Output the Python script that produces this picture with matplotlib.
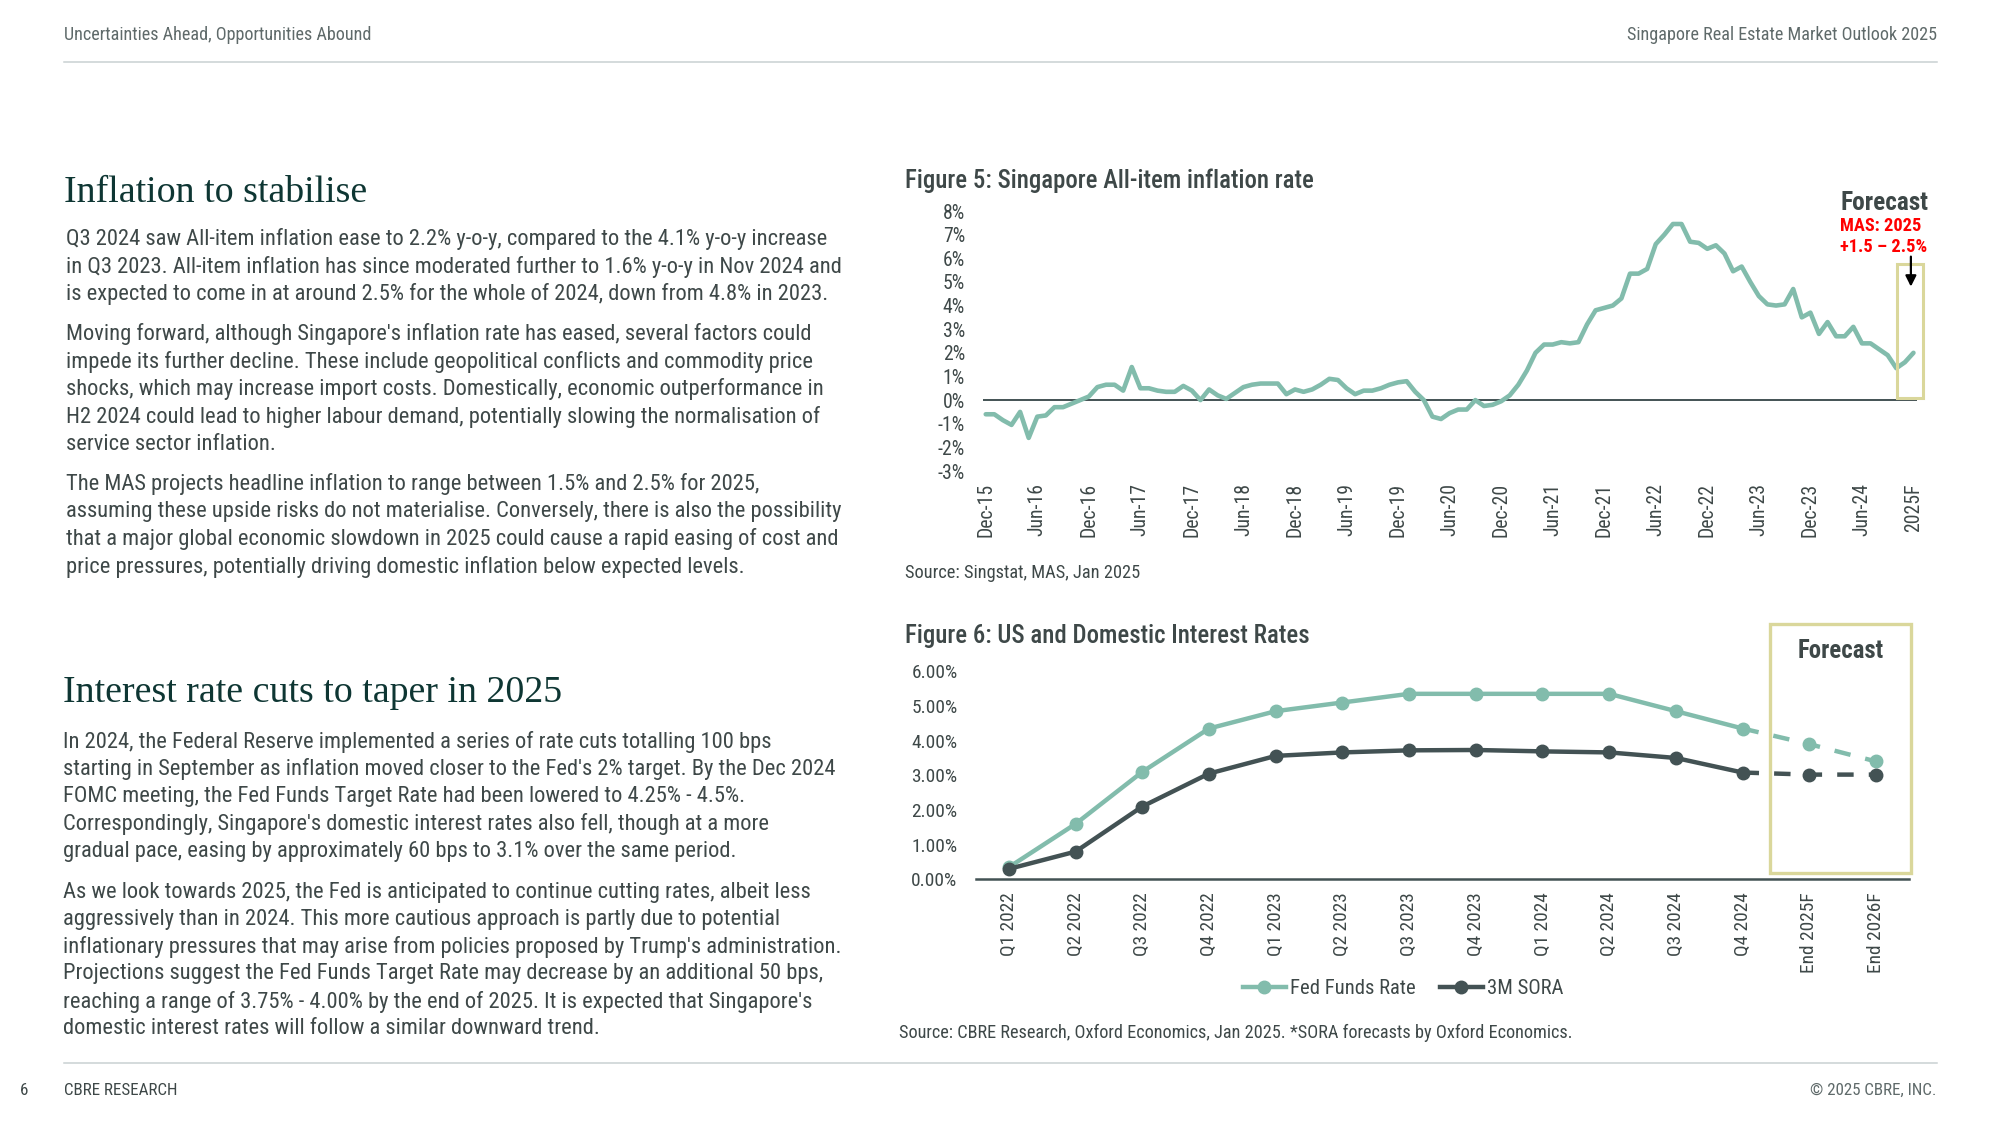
import matplotlib
matplotlib.use('Agg')
import numpy as np
import matplotlib.pyplot as plt
from matplotlib.lines import Line2D
from matplotlib.patches import Rectangle

# ---------------- data ----------------
infl_dec15 = [-0.6]
infl_2016 = [-0.6, -0.85, -1.05, -0.5, -1.6, -0.7, -0.65, -0.3, -0.3, -0.15, 0.0, 0.15]
infl_2017 = [0.55, 0.65, 0.65, 0.4, 1.4, 0.5, 0.5, 0.4, 0.35, 0.35, 0.6, 0.4]
infl_2018 = [0.0, 0.45, 0.2, 0.05, 0.3, 0.55, 0.65, 0.7, 0.7, 0.7, 0.25, 0.45]
infl_2019 = [0.35, 0.45, 0.65, 0.9, 0.85, 0.5, 0.25, 0.4, 0.4, 0.5, 0.65, 0.75]
infl_2020 = [0.8, 0.35, 0.0, -0.7, -0.8, -0.55, -0.4, -0.4, 0.0, -0.25, -0.2, -0.05]
infl_2021 = [0.2, 0.65, 1.25, 2.0, 2.35, 2.35, 2.45, 2.4, 2.45, 3.2, 3.8, 3.9]
infl_2022 = [4.0, 4.3, 5.35, 5.35, 5.55, 6.6, 7.0, 7.45, 7.45, 6.7, 6.65, 6.4]
infl_2023 = [6.55, 6.2, 5.45, 5.65, 5.0, 4.4, 4.05, 4.0, 4.05, 4.7, 3.5, 3.7]
infl_2024 = [2.8, 3.3, 2.7, 2.7, 3.1, 2.4, 2.4, 2.15, 1.9, 1.35, 1.6]
infl_2025F = [2.0]
infl_ticklabels = ['Dec-15', 'Jun-16', 'Dec-16', 'Jun-17', 'Dec-17', 'Jun-18', 'Dec-18',
                   'Jun-19', 'Dec-19', 'Jun-20', 'Dec-20', 'Jun-21', 'Dec-21', 'Jun-22',
                   'Dec-22', 'Jun-23', 'Dec-23', 'Jun-24', '2025F']
infl_yticks = [-3, -2, -1, 0, 1, 2, 3, 4, 5, 6, 7, 8]

rate_periods = ['Q1 2022', 'Q2 2022', 'Q3 2022', 'Q4 2022', 'Q1 2023', 'Q2 2023', 'Q3 2023',
                'Q4 2023', 'Q1 2024', 'Q2 2024', 'Q3 2024', 'Q4 2024', 'End 2025F', 'End 2026F']
fed_funds = [0.35, 1.6, 3.1, 4.35, 4.85, 5.1, 5.35, 5.35, 5.35, 5.35, 4.85, 4.35, 3.9, 3.4]
sora_3m = [0.3, 0.8, 2.1, 3.05, 3.56, 3.66, 3.72, 3.73, 3.69, 3.66, 3.5, 3.08, 3.02, 3.02]
n_actual = 12   # Q1 2022 .. Q4 2024 are actual, the rest are forecasts
rate_yticks = [0, 1, 2, 3, 4, 5, 6]

# ---------------- texts ----------------
header_left = "Uncertainties Ahead, Opportunities Abound"
header_right = "Singapore Real Estate Market Outlook 2025"
heading1 = "Inflation to stabilise"
heading2 = "Interest rate cuts to taper in 2025"
para1 = ["Q3 2024 saw All-item inflation ease to 2.2% y-o-y, compared to the 4.1% y-o-y increase",
         "in Q3 2023. All-item inflation has since moderated further to 1.6% y-o-y in Nov 2024 and",
         "is expected to come in at around 2.5% for the whole of 2024, down from 4.8% in 2023."]
para2 = ["Moving forward, although Singapore's inflation rate has eased, several factors could",
         "impede its further decline. These include geopolitical conflicts and commodity price",
         "shocks, which may increase import costs. Domestically, economic outperformance in",
         "H2 2024 could lead to higher labour demand, potentially slowing the normalisation of",
         "service sector inflation."]
para3 = ["The MAS projects headline inflation to range between 1.5% and 2.5% for 2025,",
         "assuming these upside risks do not materialise. Conversely, there is also the possibility",
         "that a major global economic slowdown in 2025 could cause a rapid easing of cost and",
         "price pressures, potentially driving domestic inflation below expected levels."]
para4 = ["In 2024, the Federal Reserve implemented a series of rate cuts totalling 100 bps",
         "starting in September as inflation moved closer to the Fed's 2% target. By the Dec 2024",
         "FOMC meeting, the Fed Funds Target Rate had been lowered to 4.25% - 4.5%.",
         "Correspondingly, Singapore's domestic interest rates also fell, though at a more",
         "gradual pace, easing by approximately 60 bps to 3.1% over the same period."]
para5 = ["As we look towards 2025, the Fed is anticipated to continue cutting rates, albeit less",
         "aggressively than in 2024. This more cautious approach is partly due to potential",
         "inflationary pressures that may arise from policies proposed by Trump's administration.",
         "Projections suggest the Fed Funds Target Rate may decrease by an additional 50 bps,",
         "reaching a range of 3.75% - 4.00% by the end of 2025. It is expected that Singapore's",
         "domestic interest rates will follow a similar downward trend."]

# ---------------- styling ----------------
W, H = 2000, 1125
SANS = ['Liberation Sans Narrow', 'Roboto Condensed', 'Roboto', 'DejaVu Sans']
SERIF = ['Liberation Serif', 'DejaVu Serif']
TEAL = '#82bcac'
DARK = '#435254'
TXT = '#3e4848'
HEAD = '#0e3633'
GREY = '#5f6a6a'
RULE = '#c9d1d2'
KHAKI = '#dad79b'

plt.rcParams['font.family'] = SANS

fig = plt.figure(figsize=(W / 100, H / 100), dpi=100)
fig.patch.set_facecolor('white')
renderer = fig.canvas.get_renderer()


def fx(x):
    return x / W


def fy(y):
    return 1 - y / H


def fit_size(s, target, **kw):
    t = fig.text(0, 0, s, fontsize=20, **kw)
    w = t.get_window_extent(renderer=renderer).width
    t.remove()
    return 20 * target / w


def put(x, y, s, size, ha='left', va='center', **kw):
    return fig.text(fx(x), fy(y), s, fontsize=size, ha=ha, va=va, **kw)


def axes_px(x0, y0, x1, y1):
    return fig.add_axes([fx(x0), fy(y1), (x1 - x0) / W, (y1 - y0) / H])


# ---------------- page chrome ----------------
sz_hdr = fit_size(header_left, 308)
put(64.3, 35.5, header_left, sz_hdr, color=GREY)
put(1936.7, 35.5, header_right, sz_hdr, ha='right', color=GREY)
fig.add_artist(Line2D([fx(64), fx(1937)], [fy(62), fy(62)], color=RULE, lw=1.1))
fig.add_artist(Line2D([fx(64), fx(1937)], [fy(1062.5), fy(1062.5)], color=RULE, lw=1.1))
sz_ftr = fit_size("CBRE RESEARCH", 114)
put(24, 1090.5, "6", sz_ftr, ha='center', color=TXT)
put(64.3, 1090.5, "CBRE RESEARCH", sz_ftr, color=TXT)
put(1936.7, 1090.5, "\u00a9 2025 CBRE, INC.", sz_ftr, ha='right', color=GREY)

# ---------------- left column text ----------------
sz_head = fit_size(heading1, 303, family=SERIF)
put(64, 201.7, heading1, sz_head, va='baseline', family=SERIF, color=HEAD)
put(63, 701.5, heading2, sz_head, va='baseline', family=SERIF, color=HEAD)

sz_body = fit_size(para1[0], 758)
for lines, ys, x in [(para1, [239.3, 266.7, 294.0], 65.5),
                     (para2, [334, 361.7, 389.3, 416.7, 444], 65.5),
                     (para3, [484, 511.7, 539.3, 566.7], 65.5),
                     (para4, [741.7, 769.3, 796.7, 824.3, 851.7], 63),
                     (para5, [892.3, 919.3, 946.7, 974, 1001.7, 1028.3], 63)]:
    for s, y in zip(lines, ys):
        put(x, y, s, sz_body, color=TXT)

# ---------------- Figure 5 ----------------
TW = 500
sz_title = fit_size("Figure 5: Singapore All-item inflation rate", 409, weight=TW)
put(905.4, 180.7, "Figure 5: Singapore All-item inflation rate", sz_title,
    weight=TW, color=TXT)
sz_src = fit_size("Source: Singstat, MAS, Jan 2025", 234.6)
put(905.4, 573.3, "Source: Singstat, MAS, Jan 2025", sz_src, color=TXT)

inflation = (infl_dec15 + infl_2016 + infl_2017 + infl_2018 + infl_2019 + infl_2020
             + infl_2021 + infl_2022 + infl_2023 + infl_2024 + infl_2025F)
xm = np.arange(len(inflation))

ax1 = axes_px(982.9, 211, 1916.9, 471)
ax1.set_xlim(-0.33, 108.4)
ax1.set_ylim(-3, 8)
for sp in ax1.spines.values():
    sp.set_visible(False)
ax1.axhline(0, color=DARK, lw=1.4, zorder=2)
ax1.plot(xm, inflation, color=TEAL, lw=3.3, solid_capstyle='round',
         solid_joinstyle='round', zorder=3)

sz_tick = fit_size("Dec-15", 54)
ax1.set_xticks(np.arange(0, len(inflation), 6))
ax1.set_xticklabels(infl_ticklabels, rotation=90, fontsize=sz_tick, color=TXT)
ax1.set_yticks(infl_yticks)
ax1.set_yticklabels([f'{v}%' for v in infl_yticks], fontsize=sz_tick, color=TXT)
ax1.tick_params(axis='x', length=0, pad=8.9)
ax1.tick_params(axis='y', length=0, pad=12.9)
ax1.patch.set_alpha(0)

ax1.add_patch(Rectangle((106.1, 0.1), 3.0, 5.64, fill=False, edgecolor=KHAKI,
                        lw=2.2, clip_on=False, zorder=4))
ax1.annotate('', xy=(107.7, 4.8), xytext=(107.7, 6.07),
             arrowprops=dict(arrowstyle='-|>', color='black', lw=1.6,
                             mutation_scale=16, shrinkA=0, shrinkB=0),
             annotation_clip=False, zorder=5)
sz_fc = fit_size("Forecast", 88.3, weight='bold')
put(1840, 203.3, "Forecast", sz_fc, weight='bold', color=TXT)
sz_mas = fit_size("MAS: 2025", 81.3, weight='bold')
put(1840, 225.7, "MAS: 2025", sz_mas, weight='bold', color='#ff0000')
put(1840, 247.3, "+1.5 \u2013 2.5%", sz_mas, weight='bold', color='#ff0000')

# ---------------- Figure 6 ----------------
put(905.4, 636, "Figure 6: US and Domestic Interest Rates", sz_title,
    weight=TW, color=TXT)
src6 = "Source: CBRE Research, Oxford Economics, Jan 2025. *SORA forecasts by Oxford Economics."
sz_src6 = fit_size(src6, 674)
put(899, 1032.7, src6, sz_src6, color=TXT)

xq = np.arange(len(rate_periods))
ax2 = axes_px(975.6, 671.3, 1909.3, 879.3)
ax2.set_xlim(-0.5, 13.5)
ax2.set_ylim(0, 6)
for k in ['top', 'right', 'left']:
    ax2.spines[k].set_visible(False)
ax2.spines['bottom'].set_color(DARK)
ax2.spines['bottom'].set_linewidth(1.8)
ax2.patch.set_alpha(0)

a = n_actual
for vals, col in [(fed_funds, TEAL), (sora_3m, DARK)]:
    ax2.plot(xq[:a], vals[:a], color=col, lw=3.2, marker='o', ms=9,
             solid_joinstyle='round', clip_on=False, zorder=4)
    ax2.plot(xq[a - 1:], vals[a - 1:], color=col, lw=3.2, dashes=(3.7, 3.4),
             zorder=3, clip_on=False)
    ax2.plot(xq[a:], vals[a:], color=col, lw=0, marker='o', ms=9,
             clip_on=False, zorder=4)

sz_tick6 = fit_size("Q1 2022", 64)
ax2.set_xticks(xq)
ax2.set_xticklabels(rate_periods, rotation=90, fontsize=sz_tick6, color=TXT)
ax2.set_yticks(rate_yticks)
ax2.set_yticklabels([f'{v:.2f}%' for v in rate_yticks], fontsize=sz_tick6, color=TXT)
ax2.tick_params(axis='x', length=0, pad=9.6)
ax2.tick_params(axis='y', length=0, pad=13)

ax2.add_patch(Rectangle((11.41, 0.17), 2.12, 7.19, fill=False, edgecolor=KHAKI,
                        lw=2.4, clip_on=False, zorder=2))
sz_fc6 = fit_size("Forecast", 86, weight='bold')
put(1841, 650.7, "Forecast", sz_fc6, ha='center', weight='bold', color=TXT)

sz_leg = fit_size("Fed Funds Rate", 125)
fs_px = sz_leg / 0.72
handles = [Line2D([], [], color=TEAL, lw=3.2, marker='o', ms=9),
           Line2D([], [], color=DARK, lw=3.2, marker='o', ms=9)]
fig.legend(handles, ['Fed Funds Rate', '3M SORA'], loc='center',
           bbox_to_anchor=(fx(1403), fy(988.3)), ncol=2, frameon=False,
           fontsize=sz_leg, handlelength=43 / fs_px, handletextpad=4 / fs_px,
           columnspacing=24 / fs_px, labelcolor=TXT, borderpad=0, borderaxespad=0)

fig.savefig('out.png', dpi=100, facecolor='white')
